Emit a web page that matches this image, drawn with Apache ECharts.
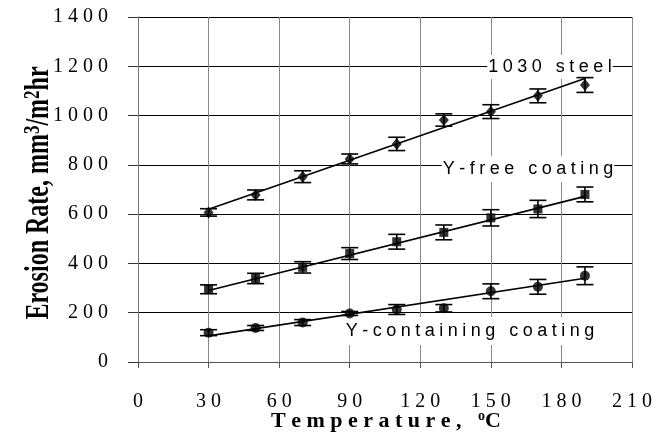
<!DOCTYPE html>
<html>
<head>
<meta charset="utf-8">
<script src="https://cdn.jsdelivr.net/npm/echarts@6/dist/echarts.min.js"></script>
<style>html,body{margin:0;padding:0;background:#fff;}#c{width:667px;height:432px;}</style>
</head>
<body>
<div id="c"></div>
<script>
// ---- data ----
const temps = [30, 50, 70, 90, 110, 130, 150, 170, 190];
const steel = [607, 678, 752, 824, 885, 982, 1016, 1080, 1124];
const steelErr = [15, 20, 24, 20, 27, 25, 28, 28, 30];
const yFree = [295, 339, 384, 440, 488, 526, 585, 621, 680];
const yFreeErr = [18, 21, 23, 24, 30, 30, 33, 35, 30];
const yCont = [119, 138, 160, 197, 213, 218, 287, 305, 350];
const yContErr = [12, 10, 12, 8, 20, 15, 30, 30, 36];
const trendX = [30, 190];
const steelTrend = [620, 1150];
const yFreeTrend = [290, 672];
const yContTrend = [106, 340];
const xTicks = [0, 30, 60, 90, 120, 150, 180, 210];
const yTicks = [0, 200, 400, 600, 800, 1000, 1200, 1400];
const seriesLabels = ['1030 steel', 'Y-free coating', 'Y-containing coating'];

const SERIF = '"Liberation Serif", "Times New Roman", serif';
const SANS = '"Liberation Sans", Arial, sans-serif';
const spaced = (s, sp) => String(s).split('').join(sp);

function pairs(xs, ys) { return xs.map((x, i) => [x, ys[i]]); }
function triples(vals, errs) { return temps.map((t, i) => [t, vals[i], errs[i]]); }

function errRender(params, api) {
  const x = api.value(0), y = api.value(1), e = api.value(2);
  const top = api.coord([x, y + e]);
  const bot = api.coord([x, y - e]);
  const hw = 8.5;
  const st = { stroke: '#000', lineWidth: 1.6 };
  return {
    type: 'group',
    children: [
      { type: 'line', shape: { x1: top[0], y1: top[1], x2: bot[0], y2: bot[1] }, style: st },
      { type: 'line', shape: { x1: top[0] - hw, y1: top[1], x2: top[0] + hw, y2: top[1] }, style: st },
      { type: 'line', shape: { x1: bot[0] - hw, y1: bot[1], x2: bot[0] + hw, y2: bot[1] }, style: st }
    ]
  };
}

const chart = echarts.init(document.getElementById('c'), null, { renderer: 'canvas' });

function annot(text, cx, cy, pad) {
  return {
    type: 'text', z: 1, x: cx, y: cy,
    style: {
      text: spaced(text, '\u2005'), font: '18px ' + SANS, fill: '#000',
      backgroundColor: '#fff', padding: pad,
      align: 'center', verticalAlign: 'middle'
    }
  };
}

const option = {
  animation: false,
  backgroundColor: '#fff',
  grid: { left: 138, right: 35, top: 17, bottom: 70, containLabel: false },
  xAxis: {
    type: 'value', min: 0, max: 210, interval: 30,
    axisLine: { show: true, onZero: false, lineStyle: { color: '#555', width: 1 } },
    axisTick: { show: true, length: 6, lineStyle: { color: '#555' } },
    splitLine: { show: true, lineStyle: { color: '#888', width: 1 } },
    axisLabel: {
      margin: 30, color: '#000', fontFamily: SERIF, fontSize: 20,
      formatter: v => xTicks.includes(v) ? spaced(v, '\u2005') : ''
    }
  },
  yAxis: {
    type: 'value', min: 0, max: 1400, interval: 200,
    axisLine: { show: true, onZero: false, lineStyle: { color: '#777', width: 1 } },
    axisTick: { show: true, length: 10, lineStyle: { color: '#333' } },
    splitLine: { show: true, lineStyle: { color: '#000', width: 1 } },
    axisLabel: {
      margin: 30, color: '#000', fontFamily: SERIF, fontSize: 20,
      formatter: v => yTicks.includes(v) ? spaced(v, '\u2005') : ''
    }
  },
  graphic: [
    annot(seriesLabels[0], 550, 67, [3, 1, 3, 1]),
    annot(seriesLabels[1], 528, 169, [4, 1, 4, 1]),
    annot(seriesLabels[2], 470, 331, [5, 1, 5, 1]),
    {
      type: 'text', x: 386, y: 421,
      style: {
        text: '{b|' + spaced('Temperature,', '\u2005') + '\u2005\u2005\u2005}{s|o}{b|C}', align: 'center', verticalAlign: 'middle',
        rich: {
          b: { fontFamily: SERIF, fontWeight: 'bold', fontSize: 22, fill: '#000', lineHeight: 24 },
          s: { fontFamily: SERIF, fontWeight: 'bold', fontSize: 14, fill: '#000', lineHeight: 12, verticalAlign: 'top' }
        }
      }
    },
    {
      type: 'text', x: 39, y: 193, rotation: Math.PI / 2, scaleY: 1.4,
      style: {
        text: '{b|Erosion Rate, mm}{s|3}{b|/m}{s|2}{b|hr}', align: 'center', verticalAlign: 'middle',
        rich: {
          b: { fontFamily: SERIF, fontWeight: 'bold', fontSize: 24, fill: '#000', lineHeight: 26 },
          s: { fontFamily: SERIF, fontWeight: 'bold', fontSize: 17, fill: '#000', lineHeight: 14, verticalAlign: 'top' }
        }
      }
    }
  ],
  series: [
    { type: 'line', data: pairs(trendX, steelTrend), symbol: 'none', lineStyle: { color: '#000', width: 1.6 }, z: 3 },
    { type: 'line', data: pairs(trendX, yFreeTrend), symbol: 'none', lineStyle: { color: '#000', width: 1.6 }, z: 3 },
    { type: 'line', data: pairs(trendX, yContTrend), symbol: 'none', lineStyle: { color: '#000', width: 1.6 }, z: 3 },
    { type: 'custom', renderItem: errRender, data: triples(steel, steelErr), z: 4 },
    { type: 'custom', renderItem: errRender, data: triples(yFree, yFreeErr), z: 4 },
    { type: 'custom', renderItem: errRender, data: triples(yCont, yContErr), z: 4 },
    { type: 'scatter', data: pairs(temps, steel), symbol: 'diamond', symbolSize: [10, 12], itemStyle: { color: '#000' }, z: 5 },
    { type: 'scatter', data: pairs(temps, yFree), symbol: 'rect', symbolSize: 9, itemStyle: { color: '#000' }, z: 5 },
    { type: 'scatter', data: pairs(temps, yCont), symbol: 'circle', symbolSize: 10, itemStyle: { color: '#000' }, z: 5 }
  ]
};
chart.setOption(option);
</script>
</body>
</html>
